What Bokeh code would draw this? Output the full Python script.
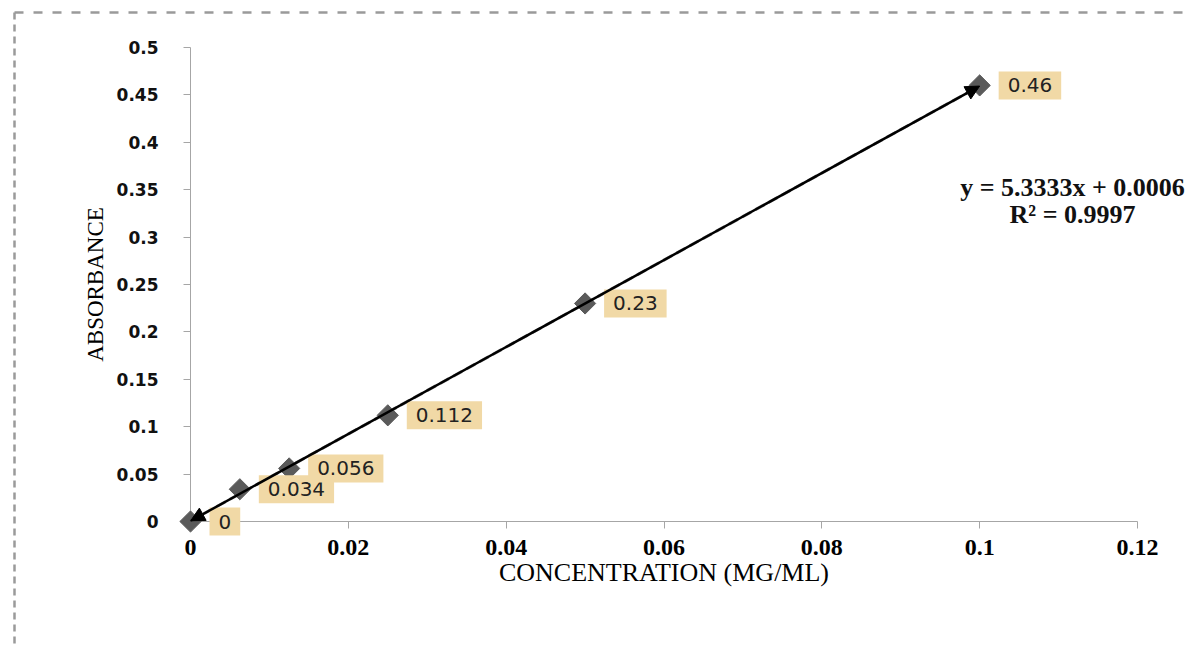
import math
import numpy as np
from bokeh.plotting import figure
from bokeh.models import (ColumnDataSource, Arrow, NormalHead, FixedTicker, Range1d)
from bokeh.core.properties import value
from bokeh.embed import file_html
from bokeh.resources import INLINE

# ---- data ----
conc = [0, 0.00625, 0.0125, 0.025, 0.05, 0.1]
absorb = [0, 0.034, 0.056, 0.112, 0.23, 0.46]
point_labels = ["0", "0.034", "0.056", "0.112", "0.23", "0.46"]
eq_lines = ["y = 5.3333x + 0.0006", "R² = 0.9997"]
x_ticks = [0, 0.02, 0.04, 0.06, 0.08, 0.1, 0.12]
x_tick_labels = ["0", "0.02", "0.04", "0.06", "0.08", "0.1", "0.12"]
y_ticks = [0, 0.05, 0.1, 0.15, 0.2, 0.25, 0.3, 0.35, 0.4, 0.45, 0.5]
y_tick_labels = ["0", "0.05", "0.1", "0.15", "0.2", "0.25", "0.3", "0.35", "0.4", "0.45", "0.5"]
x_title = "CONCENTRATION (MG/ML)"
y_title = "ABSORBANCE"

W, H = 1185, 645
FL, FR, FT, FB = 190, 1137, 47, 521   # frame edges on the canvas
X0, X1, Y0, Y1 = 0, 0.12, 0, 0.5

p = figure(width=W, height=H, output_backend="svg", toolbar_location=None,
           x_range=Range1d(X0, X1), y_range=Range1d(Y0, Y1),
           min_border_left=FL, min_border_right=W - FR, min_border_top=FT,
           min_border_bottom=H - FB)
p.outline_line_color = None
p.xgrid.visible = False
p.ygrid.visible = False
p.background_fill_color = "white"
p.border_fill_color = "white"


def cx(px):  # canvas px -> data x (for decoration placement only)
    return X0 + (px - FL) * (X1 - X0) / (FR - FL)


def cy(py):  # canvas px -> data y
    return Y0 + (FB - py) * (Y1 - Y0) / (FB - FT)


# dashed page border (top and left visible)
b1 = p.line([cx(14), cx(W + 20)], [cy(12), cy(12)], line_color="#9a9a9a",
            line_width=2.5, line_dash="9 10")
b2 = p.line([cx(14), cx(14)], [cy(12), cy(H + 20)], line_color="#9a9a9a",
            line_width=2.5, line_dash="7 5")
b1.level = "overlay"
b2.level = "overlay"

# axes
for ax in (p.xaxis[0], p.yaxis[0]):
    ax.axis_line_color = "#a6a6a6"
    ax.major_tick_line_color = "#a6a6a6"
    ax.major_tick_out = 7
    ax.major_tick_in = 0
    ax.minor_tick_line_color = None
    ax.axis_label_text_font = "Liberation Serif"
    ax.axis_label_text_font_style = "normal"
    ax.axis_label_text_color = "black"

p.xaxis.ticker = FixedTicker(ticks=x_ticks)
p.xaxis.major_label_overrides = {t: l for t, l in zip(x_ticks, x_tick_labels)}
p.xaxis.major_label_text_font = "Liberation Serif"
p.xaxis.major_label_text_font_style = "bold"
p.xaxis.major_label_text_font_size = "24px"
p.xaxis.major_label_text_color = "black"
p.xaxis.major_label_standoff = 11
p.xaxis.axis_label = x_title
p.xaxis.axis_label_text_font_size = "26px"
p.xaxis.axis_label_standoff = 0

p.yaxis.ticker = FixedTicker(ticks=y_ticks)
p.yaxis.major_label_overrides = {t: l for t, l in zip(y_ticks, y_tick_labels)}
p.yaxis.major_label_text_font = "DejaVu Sans"
p.yaxis.major_label_text_font_style = "bold"
p.yaxis.major_label_text_font_size = "17px"
p.yaxis.major_label_text_color = "#111111"
p.yaxis.major_label_standoff = 25
p.yaxis.axis_label = y_title
p.yaxis.axis_label_text_font_size = "23px"
p.yaxis.axis_label_standoff = 6

# linear trendline fitted to the data (dashed gray)
fit_slope, fit_icpt = np.polyfit(conc, absorb, 1)
tx = [min(conc), max(conc)]
ty = [fit_slope * v + fit_icpt for v in tx]
p.line(tx, ty, line_color="#8f8f8f", line_width=3, line_dash="10 5")

# markers (rotated squares = Excel diamonds)
src = ColumnDataSource(dict(x=conc, y=absorb, lab=point_labels))
sc = p.scatter("x", "y", source=src, marker="square", size=15, angle=math.pi / 4,
               fill_color="#5a5a5a", line_color="#5a5a5a")
sc.level = "overlay"

# data labels (thick same-colour border enlarges the tan box)
lab_r = p.text("x", "y", text="lab", source=src, x_offset=26, y_offset=0,
               text_baseline="middle", text_align="left",
               text_font=value("DejaVu Sans"), text_font_size="20px",
               text_color="#222222", background_fill_color="#f1d9a6",
               border_line_color="#f1d9a6", border_line_width=14,
               border_line_join="miter", padding=(2, 0))
lab_r.level = "overlay"

# arrow line (trendline with arrowheads)
p.add_layout(Arrow(x_start=tx[0], y_start=ty[0], x_end=tx[1], y_end=ty[1],
                   line_color="black", line_width=2.5, level="overlay",
                   start=NormalHead(size=14, fill_color="black", line_color="black"),
                   end=NormalHead(size=14, fill_color="black", line_color="black")))

# equation
eq_src = ColumnDataSource(dict(x=[cx(1072), cx(1072)], y=[cy(187), cy(214)], t=eq_lines))
eq_r = p.text("x", "y", text="t", source=eq_src, text_align="center",
              text_baseline="middle", text_font=value("Liberation Serif"),
              text_font_style="bold", text_font_size="26px", text_color="#111111")
eq_r.level = "overlay"

open("out.html", "w").write(file_html(p, INLINE))
